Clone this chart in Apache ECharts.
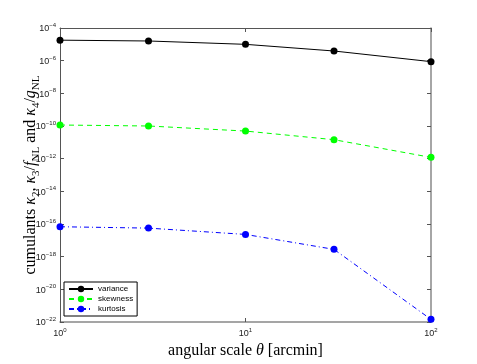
<!DOCTYPE html>
<html>
<head>
<meta charset="utf-8">
<script src="https://cdn.jsdelivr.net/npm/echarts@6/dist/echarts.min.js"></script>
<style>
  html, body { margin: 0; padding: 0; background: #fff; }
  #main { width: 477px; height: 364px; }
</style>
</head>
<body>
<div id="main"></div>
<script>
// angular scale theta [arcmin]
const theta = [1, 3, 10, 30, 100];
const variance = [1.8e-5, 1.6e-5, 1.0e-5, 3.9e-6, 8.7e-7];
const skewness = [1.15e-10, 1.0e-10, 4.9e-11, 1.45e-11, 1.2e-12];
const kurtosis = [6.8e-17, 5.6e-17, 2.3e-17, 2.8e-18, 1.45e-22];

// the log axis of v6 breaks near 1e-22, so y runs on decades (log10) of a value axis
const pairs = (ys) => theta.map((x, i) => [x, Math.log10(ys[i])]);

const supLabel = (e) => '{b|10}{e|' + (e < 0 ? '\u2212' + (-e) : e) + '}';
const tickRich = {
  b: { fontSize: 9, fontFamily: 'Liberation Sans', color: '#222', verticalAlign: 'bottom', lineHeight: 11 },
  e: { fontSize: 6, fontFamily: 'Liberation Sans', color: '#222', verticalAlign: 'top', lineHeight: 11 }
};

const serif = 'Liberation Serif';
const titleRich = {
  r: { fontFamily: serif, fontSize: 16, color: '#000' },
  i: { fontFamily: serif, fontSize: 16, fontStyle: 'italic', color: '#000' },
  s: { fontFamily: serif, fontSize: 11, color: '#000', verticalAlign: 'bottom', lineHeight: 22 }
};

const chart = echarts.init(document.getElementById('main'));

const axisLine = { show: true, lineStyle: { color: '#555', width: 1 } };
const axisLineB = { show: true, lineStyle: { color: '#888', width: 1.5 } };
const axisTick = { show: true, inside: true, length: 4, lineStyle: { color: '#555' } };

chart.setOption({
  animation: false,
  backgroundColor: '#fff',
  grid: { left: 60, right: 46, top: 28, bottom: 42 },
  legend: {
    orient: 'vertical',
    left: 64,
    bottom: 48,
    itemGap: 2,
    itemWidth: 24,
    itemHeight: 8,
    padding: [3, 4, 3, 4],
    borderColor: '#000',
    borderWidth: 1,
    backgroundColor: '#fff',
    textStyle: { fontSize: 8, fontFamily: 'Liberation Sans', color: '#000' },
    data: ['variance', 'skewness', 'kurtosis']
  },
  xAxis: [
    {
      type: 'log', min: 1, max: 100, logBase: 10,
      name: '{r|angular scale }{i|\u03b8}{r| [arcmin]}',
      nameLocation: 'middle', nameGap: 19,
      nameTextStyle: { rich: titleRich },
      axisLine: axisLineB, axisTick,
      axisLabel: { formatter: (v) => supLabel(Math.round(Math.log10(v))), rich: tickRich, margin: 5 },
      splitLine: { show: false }
    },
    {
      type: 'log', min: 1, max: 100, logBase: 10, position: 'top',
      axisLine, axisTick, axisLabel: { show: false }, splitLine: { show: false }
    }
  ],
  yAxis: [
    {
      type: 'value', min: -22, max: -4, interval: 2,
      name: '{r|cumulants }{i|\u03ba}{s|2}{r|, }{i|\u03ba}{s|3}{r|/}{i|f}{s|NL}{r| and }{i|\u03ba}{s|4}{r|/}{i|g}{s|NL}',
      nameLocation: 'middle', nameGap: 18, nameRotate: 90, nameMoveOverlap: false,
      nameTextStyle: { rich: titleRich },
      axisLine, axisTick,
      axisLabel: { formatter: (v) => supLabel(v), rich: tickRich, margin: 4 },
      splitLine: { show: false }
    },
    {
      type: 'value', min: -22, max: -4, interval: 2, position: 'right',
      axisLine: axisLineB, axisTick, axisLabel: { show: false }, splitLine: { show: false }
    }
  ],
  series: [
    {
      name: 'variance', type: 'line', data: pairs(variance),
      symbol: 'circle', symbolSize: 7,
      itemStyle: { color: '#000' },
      lineStyle: { color: '#000', width: 1 }
    },
    {
      name: 'skewness', type: 'line', data: pairs(skewness),
      symbol: 'circle', symbolSize: 7,
      itemStyle: { color: '#00ff00' },
      lineStyle: { color: '#00ff00', width: 1, type: [5, 4] }
    },
    {
      name: 'kurtosis', type: 'line', data: pairs(kurtosis),
      symbol: 'circle', symbolSize: 7,
      itemStyle: { color: '#0000ff' },
      lineStyle: { color: '#0000ff', width: 1, type: [5, 3, 1, 3] }
    }
  ]
});
</script>
</body>
</html>
